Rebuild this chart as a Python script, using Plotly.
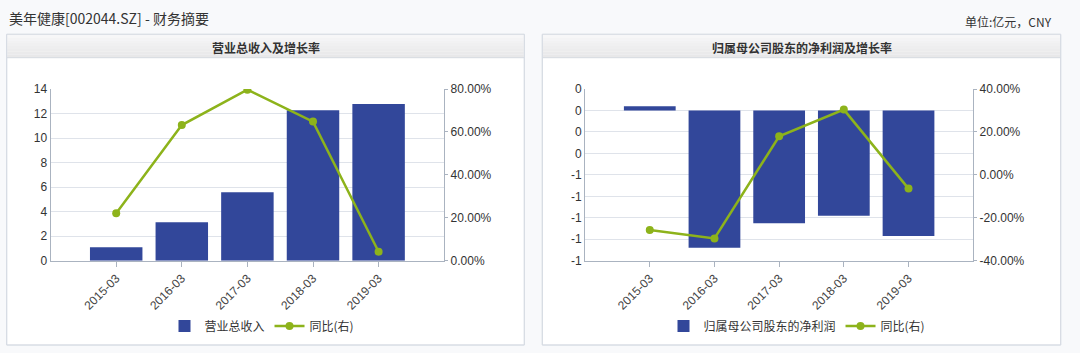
import plotly.graph_objects as go

W, H = 1080, 353

# ---------------- data ----------------
categories = ["2015-03", "2016-03", "2017-03", "2018-03", "2019-03"]
revenue = [1.09, 3.13, 5.58, 12.27, 12.78]            # 营业总收入 (亿元)
revenue_yoy = [22.1, 63.2, 79.7, 64.8, 4.2]           # 同比 %
net_profit = [0.04, -1.28, -1.05, -0.98, -1.17]       # 归属母公司股东的净利润 (亿元)
net_profit_yoy = [-25.7, -29.6, 18.0, 30.4, -6.4]     # 同比 %

rev_tickvals = [0, 2, 4, 6, 8, 10, 12, 14]
rev_ticktext = ["0", "2", "4", "6", "8", "10", "12", "14"]
rev_pct_tickvals = [0, 20, 40, 60, 80]
rev_pct_ticktext = ["0.00%", "20.00%", "40.00%", "60.00%", "80.00%"]
np_tickvals = [0.2, 0, -0.2, -0.4, -0.6, -0.8, -1.0, -1.2, -1.4]
np_ticktext = ["0", "0", "0", "0", "-1", "-1", "-1", "-1", "-1"]
np_pct_tickvals = [40, 20, 0, -20, -40]
np_pct_ticktext = ["40.00%", "20.00%", "0.00%", "-20.00%", "-40.00%"]

# ---------------- style ----------------
BAR = "#32479a"
LINE = "#8db31b"
GRID = "#dfe3ea"
AXIS = "#aab3c0"
TXT = "#333333"
CJK = "Noto Sans CJK SC, Microsoft YaHei, sans-serif"
NUM = "Liberation Sans, Arial, sans-serif"


def px_x(x):
    return x / W


def px_y(y):
    return (H - y) / H


plot_top, plot_bot = 89.0, 260.7
L_x0, L_x1 = 50.6, 444.2
R_x0, R_x1 = 585.1, 973.2

fig = go.Figure()

fig.add_trace(go.Bar(x=categories, y=revenue, name="营业总收入", marker_color=BAR,
                     marker_line_width=0, xaxis="x", yaxis="y", legend="legend"))
fig.add_trace(go.Scatter(x=categories, y=revenue_yoy, name="同比(右)", mode="lines+markers",
                         line=dict(color=LINE, width=2.5), marker=dict(color=LINE, size=8),
                         xaxis="x", yaxis="y2", legend="legend"))
fig.add_trace(go.Bar(x=categories, y=net_profit, name="归属母公司股东的净利润", marker_color=BAR,
                     marker_line_width=0, xaxis="x2", yaxis="y3", legend="legend2"))
fig.add_trace(go.Scatter(x=categories, y=net_profit_yoy, name="同比(右)", mode="lines+markers",
                         line=dict(color=LINE, width=2.5), marker=dict(color=LINE, size=8),
                         xaxis="x2", yaxis="y4", legend="legend2"))

ydom = [px_y(plot_bot), px_y(plot_top)]
tickfont = dict(family=NUM, size=12, color=TXT)
xtickfont = dict(family=NUM, size=12, color="#444444")

common_x = dict(type="category", range=[-1, 5], tickangle=-45, ticks="outside", ticklen=5,
                tickcolor=AXIS, showline=True, linecolor=AXIS, linewidth=1, showgrid=False,
                tickfont=xtickfont, fixedrange=True, automargin=False)
common_y = dict(showgrid=True, gridcolor=GRID, gridwidth=1, showline=True, linecolor=AXIS,
                linewidth=1, zeroline=False, tickfont=tickfont, ticks="", tickmode="array",
                automargin=False)
common_y2 = dict(showgrid=False, showline=True, linecolor=AXIS, linewidth=1, zeroline=False,
                 tickfont=tickfont, ticks="outside", ticklen=3, tickcolor=AXIS, tickmode="array",
                 side="right", automargin=False)

shapes = []
annotations = []


def panel(x0, x1, title):
    y0, y1, hb = 345.0, 34.3, 57.7
    shapes.append(dict(type="rect", xref="paper", yref="paper", x0=px_x(x0), x1=px_x(x1),
                       y0=px_y(y0), y1=px_y(y1), fillcolor="white",
                       line=dict(color="#dadfe6", width=1), layer="below"))
    # header gradient
    n = 8
    for i in range(n):
        c = int(247 - (247 - 232) * i / (n - 1))
        ya = y1 + (hb - y1) * i / n
        yb = y1 + (hb - y1) * (i + 1) / n
        shapes.append(dict(type="rect", xref="paper", yref="paper", x0=px_x(x0 + 0.5), x1=px_x(x1 - 0.5),
                           y0=px_y(yb), y1=px_y(ya), fillcolor=f"rgb({c},{c},{c+1})",
                           line=dict(width=0), layer="below"))
    shapes.append(dict(type="line", xref="paper", yref="paper", x0=px_x(x0), x1=px_x(x1),
                       y0=px_y(hb), y1=px_y(hb), line=dict(color="#d6dae0", width=1), layer="below"))
    shapes.append(dict(type="rect", xref="paper", yref="paper", x0=px_x(x0), x1=px_x(x1),
                       y0=px_y(y0), y1=px_y(y1), fillcolor="rgba(0,0,0,0)",
                       line=dict(color="#d6dbe3", width=1), layer="below"))
    annotations.append(dict(text=f"<b>{title}</b>", x=px_x((x0 + x1) / 2), y=px_y(47),
                            xref="paper", yref="paper", showarrow=False, xanchor="center",
                            yanchor="middle", font=dict(family=CJK, size=12, color=TXT)))


panel(6.7, 524.3, "营业总收入及增长率")
panel(542.3, 1060.7, "归属母公司股东的净利润及增长率")

annotations.append(dict(text="美年健康[002044.SZ] - 财务摘要", x=px_x(7), y=px_y(17.5), xref="paper",
                        yref="paper", showarrow=False, xanchor="left", yanchor="middle",
                        font=dict(family=CJK, size=14, color="#333333")))
annotations.append(dict(text="单位:亿元，CNY", x=px_x(1054), y=px_y(22), xref="paper", yref="paper",
                        showarrow=False, xanchor="right", yanchor="middle",
                        font=dict(family=CJK, size=12, color="#333333")))

fig.update_layout(
    width=W, height=H,
    autosize=False,
    margin=dict(l=0, r=0, t=0, b=0, pad=0, autoexpand=False),
    paper_bgcolor="#f8f9fb",
    plot_bgcolor="white",
    bargap=0.2,
    showlegend=True,
    shapes=shapes,
    annotations=annotations,
    xaxis=dict(domain=[px_x(L_x0), px_x(L_x1)], anchor="y", **common_x),
    yaxis=dict(domain=ydom, anchor="x", range=[0, 14], tickvals=rev_tickvals, ticktext=rev_ticktext,
               **common_y),
    yaxis2=dict(overlaying="y", anchor="x", range=[0, 80], tickvals=rev_pct_tickvals,
                ticktext=rev_pct_ticktext, **common_y2),
    xaxis2=dict(domain=[px_x(R_x0), px_x(R_x1)], anchor="y3", **common_x),
    yaxis3=dict(domain=ydom, anchor="x2", range=[-1.4, 0.2], tickvals=np_tickvals, ticktext=np_ticktext,
                **common_y),
    yaxis4=dict(overlaying="y3", anchor="x2", range=[-40, 40], tickvals=np_pct_tickvals,
                ticktext=np_pct_ticktext, **common_y2),
    legend=dict(orientation="h", x=px_x(262), y=px_y(326), xanchor="center", yanchor="middle",
                bgcolor="rgba(0,0,0,0)", font=dict(family=CJK, size=12, color=TXT), itemwidth=30),
    legend2=dict(orientation="h", x=px_x(797), y=px_y(326), xanchor="center", yanchor="middle",
                 bgcolor="rgba(0,0,0,0)", font=dict(family=CJK, size=12, color=TXT), itemwidth=30),
)

fig.write_html("out.html")
